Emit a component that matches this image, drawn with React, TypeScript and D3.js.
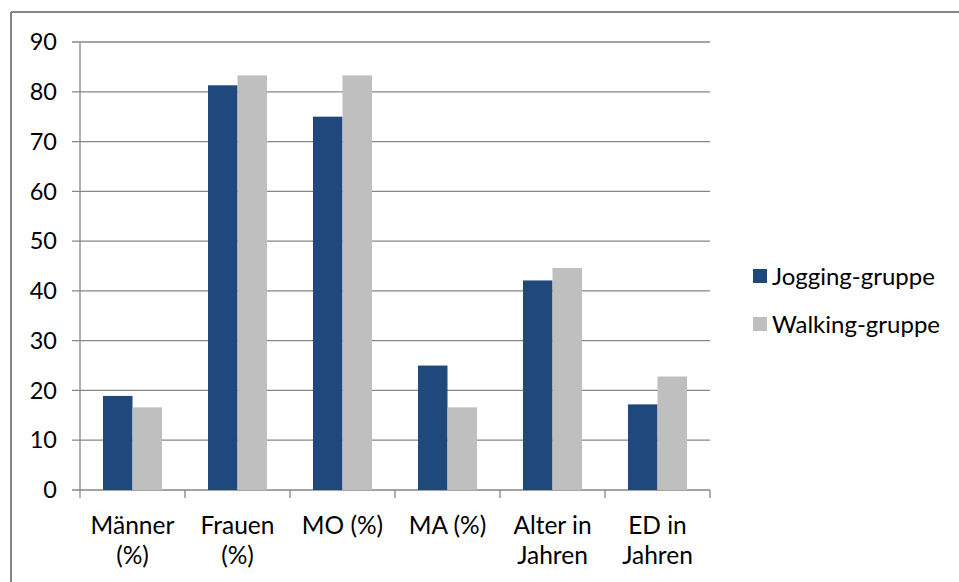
import React from "react";
import * as d3 from "d3";

const categories: string[][] = [
  ["Männer", "(%)"],
  ["Frauen", "(%)"],
  ["MO (%)"],
  ["MA (%)"],
  ["Alter in", "Jahren"],
  ["ED in", "Jahren"],
];
const seriesNames = ["Jogging-gruppe", "Walking-gruppe"];
const jogging = [18.9, 81.3, 75.0, 25.0, 42.1, 17.2];
const walking = [16.6, 83.3, 83.3, 16.6, 44.6, 22.8];
const yTicks = [0, 10, 20, 30, 40, 50, 60, 70, 80, 90];
const colors = ["#1F497D", "#BFBFBF"];

const W = 959;
const H = 582;
const FONT = "Lato, 'Open Sans', sans-serif";
const GRID = "#868686";

export default function App() {
  const left = 80, right = 710, top = 42, bottom = 490;
  const keys = categories.map((c) => c.join(" "));
  const x0 = d3.scaleBand<string>().domain(keys).range([left, right]).paddingInner(0.438).paddingOuter(0.219);
  const x1 = d3.scaleBand<string>().domain(seriesNames).range([0, x0.bandwidth()]).padding(0);
  const y = d3.scaleLinear().domain([0, 90]).range([bottom, top]);
  const step = x0.step();
  const catBounds = d3.range(categories.length + 1).map((i) => left + i * step);
  const data = [jogging, walking];

  return (
    <svg width={W} height={H} style={{ position: "absolute", left: 0, top: 0, background: "#fff" }} fontFamily={FONT}>
      <rect x={0} y={0} width={W} height={H} fill="#fff" />
      <line x1={11} y1={12} x2={W} y2={12} stroke={GRID} strokeWidth={2} />
      <line x1={11} y1={12} x2={11} y2={H} stroke={GRID} strokeWidth={2} />
      {yTicks.map((t) => (
        <g key={t}>
          <line x1={left - 8} x2={right} y1={y(t)} y2={y(t)} stroke={GRID} strokeWidth={1.3} />
          <text x={57} y={y(t)} dy="0.35em" textAnchor="end" fontSize={23.5} fill="#000">{t}</text>
        </g>
      ))}
      <line x1={left} x2={left} y1={top} y2={bottom} stroke={GRID} strokeWidth={1.3} />
      {catBounds.map((cx, i) => (
        <line key={i} x1={cx} x2={cx} y1={bottom} y2={bottom + 8} stroke={GRID} strokeWidth={1.3} />
      ))}
      {data.map((vals, si) =>
        vals.map((v, ci) => (
          <rect
            key={`${si}-${ci}`}
            x={(x0(keys[ci]) as number) + (x1(seriesNames[si]) as number)}
            y={y(v)}
            width={x1.bandwidth()}
            height={bottom - y(v)}
            fill={colors[si]}
          />
        ))
      )}
      {categories.map((lines, ci) => {
        const cx = (x0(keys[ci]) as number) + x0.bandwidth() / 2;
        return (
          <text key={ci} x={cx} textAnchor="middle" fontSize={24.5} fill="#000">
            {lines.map((l, li) => (
              <tspan key={li} x={cx} y={534 + li * 30}>{l}</tspan>
            ))}
          </text>
        );
      })}
      {seriesNames.map((s, i) => (
        <g key={s}>
          <rect x={753} y={269 + i * 48} width={14} height={14} fill={colors[i]} />
          <text x={772} y={285 + i * 48} fontSize={24} fill="#000">{s}</text>
        </g>
      ))}
    </svg>
  );
}
